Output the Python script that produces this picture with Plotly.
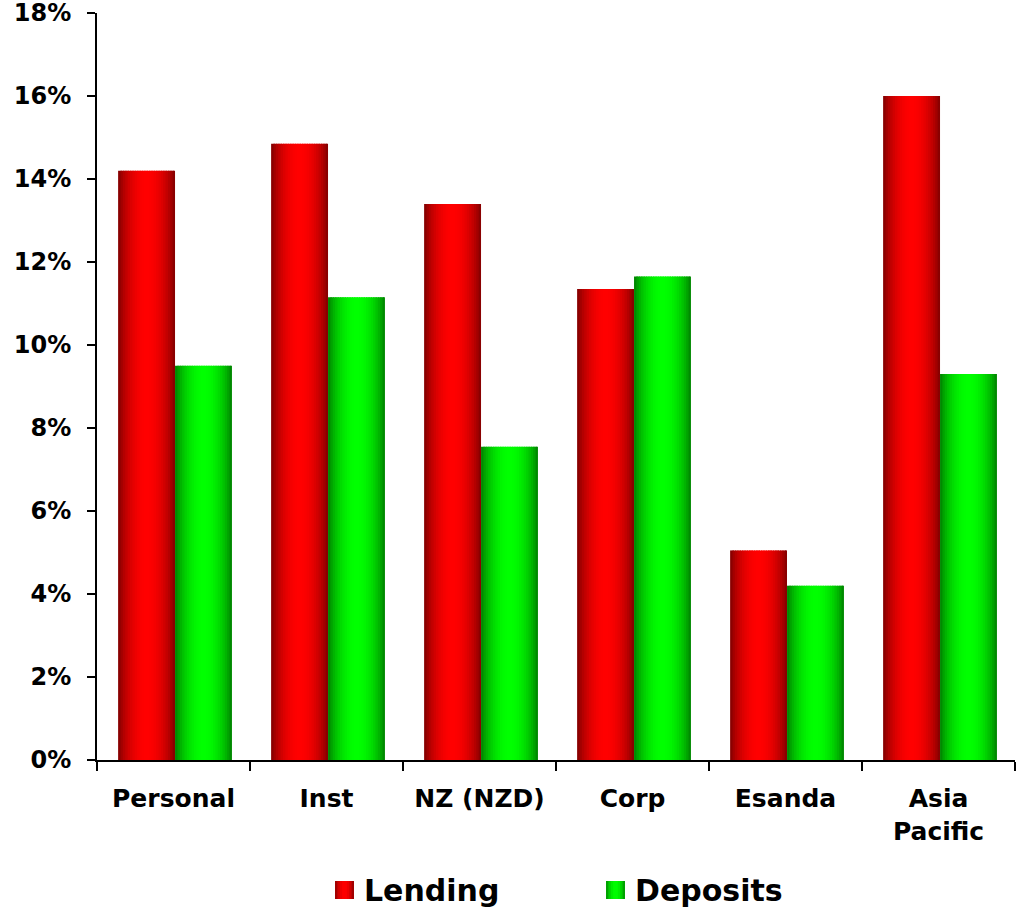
import math
import plotly.graph_objects as go

# Growth by business unit, lending vs deposits (%)
categories = ["Personal", "Inst", "NZ (NZD)", "Corp", "Esanda", "Asia<br>Pacific"]
lending = [14.2, 14.85, 13.4, 11.35, 5.05, 16.0]
deposits = [9.5, 11.15, 7.55, 11.65, 4.2, 9.3]
y_ticks = [0, 2, 4, 6, 8, 10, 12, 14, 16, 18]

FONT = "DejaVu Sans"
BAR_W = 0.372      # width of one bar in category units
SPLIT = 0.01       # where the lending bar meets the deposits bar
STRIPS = 24        # vertical strips used to shade each bar

RED_DARK, RED_BRIGHT = (118, 0, 0), (255, 0, 0)
GREEN_DARK, GREEN_BRIGHT = (0, 118, 0), (0, 255, 0)


def shade(dark, bright, u):
    """Cylinder-like shading: dark at both edges, bright in the middle."""
    t = math.sin(math.pi * u) ** 0.7
    r, g, b = (round(d + (br - d) * t) for d, br in zip(dark, bright))
    return f"rgb({r},{g},{b})"


def gradient_bars(values, start, dark, bright):
    traces = []
    step = BAR_W / STRIPS
    end = start + BAR_W
    for i in range(STRIPS):
        off = start + i * step
        width = min(step * 1.6, end - off)
        traces.append(go.Bar(
            x=categories, y=values,
            offset=off, width=width,
            marker=dict(color=shade(dark, bright, (i + 0.5) / STRIPS), line=dict(width=0)),
            showlegend=False, hoverinfo="skip",
        ))
    return traces


fig = go.Figure()
for tr in gradient_bars(lending, SPLIT - BAR_W, RED_DARK, RED_BRIGHT):
    fig.add_trace(tr)
for tr in gradient_bars(deposits, SPLIT, GREEN_DARK, GREEN_BRIGHT):
    fig.add_trace(tr)

# Custom legend with shaded swatches
L, R, T, B = 97, 1015, 13, 760
def px(x):
    return (x - L) / (R - L)
def py(y):
    return (B - y) / (B - T)

legend_items = [("Lending", 335, RED_DARK, RED_BRIGHT), ("Deposits", 606, GREEN_DARK, GREEN_BRIGHT)]
shapes = []
annotations = []
SW = 19
n = 8
for name, x0, dark, bright in legend_items:
    for i in range(n):
        a = x0 + SW * i / n
        b = min(x0 + SW * (i + 1.6) / n, x0 + SW)
        shapes.append(dict(type="rect", xref="paper", yref="paper",
                           x0=px(a), x1=px(b), y0=py(899), y1=py(881),
                           fillcolor=shade(dark, bright, (i + 0.5) / n), line=dict(width=0)))
    annotations.append(dict(text=name, xref="paper", yref="paper",
                            x=px(x0 + SW + 8), y=py(890), xanchor="left", yanchor="middle",
                            showarrow=False,
                            font=dict(family=FONT, size=30, color="black", weight="bold")))

fig.update_layout(
    width=1016, height=909,
    margin=dict(l=L, r=1016 - R, t=T, b=909 - B, autoexpand=False),
    paper_bgcolor="white", plot_bgcolor="white",
    barmode="overlay",
    showlegend=False,
    shapes=shapes,
    annotations=annotations,
    xaxis=dict(
        type="category",
        automargin=False,
        showgrid=False, zeroline=False,
        showline=True, linecolor="black", linewidth=2,
        ticks="outside", tickson="boundaries", ticklen=9, tickwidth=2, tickcolor="black",
        tickfont=dict(family=FONT, size=25, color="black", weight="bold"),
        ticklabelstandoff=15,
    ),
    yaxis=dict(
        range=[0, 18],
        automargin=False,
        tickvals=y_ticks,
        ticktext=[f"{v}%" for v in y_ticks],
        ticklabeloverflow="allow",
        showgrid=False, zeroline=False,
        showline=True, linecolor="black", linewidth=2,
        ticks="outside", ticklen=8, tickwidth=2, tickcolor="black",
        tickfont=dict(family=FONT, size=24, color="black", weight="bold"),
        ticklabelstandoff=11,
    ),
)

fig.write_html("out.html")
